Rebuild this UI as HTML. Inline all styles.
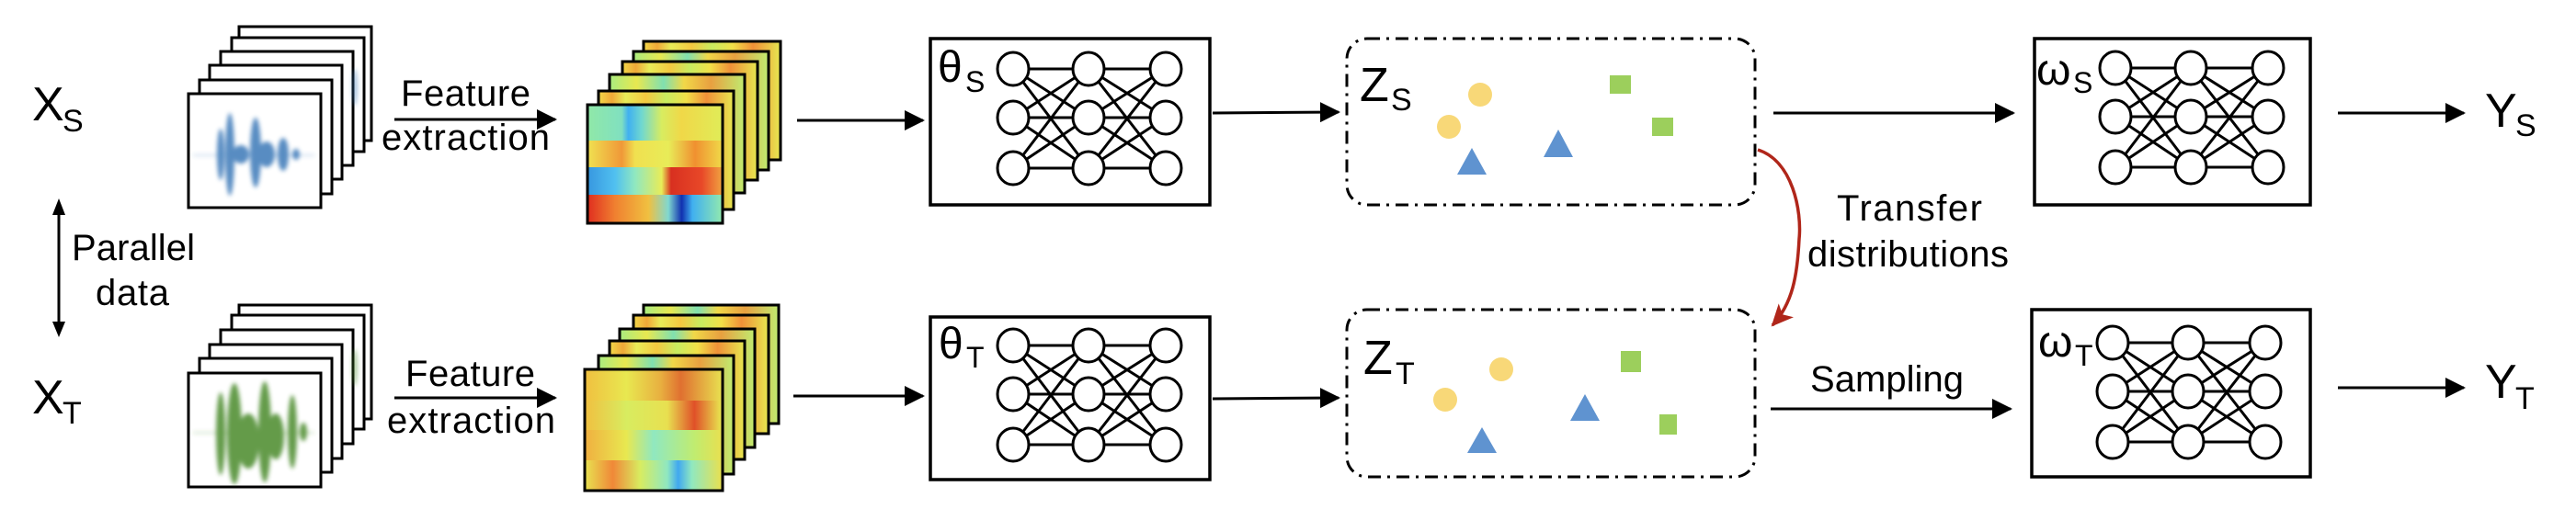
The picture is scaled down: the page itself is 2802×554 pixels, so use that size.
<!DOCTYPE html>
<html><head><meta charset="utf-8"><style>
html,body{margin:0;padding:0;background:#fff;}
svg{display:block;font-family:"Liberation Sans",Arial,sans-serif;}
</style></head><body>
<svg width="2802" height="554" viewBox="0 0 2802 554" xmlns="http://www.w3.org/2000/svg">
<defs>
<marker id="ah" markerWidth="22" markerHeight="22" refX="20" refY="11" orient="auto" markerUnits="userSpaceOnUse"><path d="M0,0 L22,11 L0,22 Z" fill="#000"/></marker>
<marker id="ahr" markerWidth="26" markerHeight="26" refX="22" refY="13" orient="auto" markerUnits="userSpaceOnUse"><path d="M0,2 L24,13 L0,24 L6,13 Z" fill="#b0261a"/></marker>
<filter id="bl" x="-50%" y="-50%" width="200%" height="200%"><feGaussianBlur stdDeviation="2.5"/></filter>
<g id="net" stroke="#000" stroke-width="3" fill="none">
<path d="M0,0L82,0M0,0L82,53M0,0L82,108M0,53L82,0M0,53L82,53M0,53L82,108M0,108L82,0M0,108L82,53M0,108L82,108"/>
<path d="M82,0L166,0M82,0L166,53M82,0L166,108M82,53L166,0M82,53L166,53M82,53L166,108M82,108L166,0M82,108L166,53M82,108L166,108"/>
<g fill="#fff"><ellipse cx="0" cy="0" rx="17" ry="18"/><ellipse cx="0" cy="53" rx="17" ry="18"/><ellipse cx="0" cy="108" rx="17" ry="18"/>
<ellipse cx="82" cy="0" rx="17" ry="18"/><ellipse cx="82" cy="53" rx="17" ry="18"/><ellipse cx="82" cy="108" rx="17" ry="18"/>
<ellipse cx="166" cy="0" rx="17" ry="18"/><ellipse cx="166" cy="53" rx="17" ry="18"/><ellipse cx="166" cy="108" rx="17" ry="18"/></g>
</g>
<linearGradient id="hb"><stop offset="0" stop-color="#f2d848"/><stop offset=".1" stop-color="#f0a838"/><stop offset=".2" stop-color="#e8ec58"/><stop offset=".35" stop-color="#f4c840"/><stop offset=".5" stop-color="#c8ec60"/><stop offset=".65" stop-color="#f2e048"/><stop offset=".8" stop-color="#f09038"/><stop offset="1" stop-color="#e6e850"/></linearGradient>
<linearGradient id="hc"><stop offset="0" stop-color="#a8ec80"/><stop offset=".2" stop-color="#e8e850"/><stop offset=".4" stop-color="#80e0b0"/><stop offset=".55" stop-color="#f0d848"/><stop offset=".75" stop-color="#e8a040"/><stop offset="1" stop-color="#c0ec70"/></linearGradient>
<linearGradient id="f1"><stop offset="0" stop-color="#90e8a8"/><stop offset=".25" stop-color="#80e0c0"/><stop offset=".3" stop-color="#40b0f0"/><stop offset=".4" stop-color="#70d8d0"/><stop offset=".55" stop-color="#d8ec60"/><stop offset=".7" stop-color="#f0d848"/><stop offset="1" stop-color="#e0ec58"/></linearGradient>
<linearGradient id="f2"><stop offset="0" stop-color="#f0e050"/><stop offset=".25" stop-color="#f09838"/><stop offset=".35" stop-color="#f0e050"/><stop offset=".6" stop-color="#e8ec58"/><stop offset=".8" stop-color="#f09030"/><stop offset="1" stop-color="#f0d848"/></linearGradient>
<linearGradient id="f3"><stop offset="0" stop-color="#3898e0"/><stop offset=".2" stop-color="#50c0f0"/><stop offset=".35" stop-color="#90e8c0"/><stop offset=".55" stop-color="#e8ec58"/><stop offset=".62" stop-color="#d83020"/><stop offset=".85" stop-color="#e84828"/><stop offset="1" stop-color="#f0a040"/></linearGradient>
<linearGradient id="f4"><stop offset="0" stop-color="#e03020"/><stop offset=".2" stop-color="#f08030"/><stop offset=".45" stop-color="#f0c040"/><stop offset=".6" stop-color="#80d8d0"/><stop offset=".7" stop-color="#1030b0"/><stop offset=".78" stop-color="#40b0f0"/><stop offset="1" stop-color="#90e8b0"/></linearGradient>
<linearGradient id="g1"><stop offset="0" stop-color="#f0c040"/><stop offset=".3" stop-color="#e8e850"/><stop offset=".55" stop-color="#e8b040"/><stop offset=".7" stop-color="#e07030"/><stop offset="1" stop-color="#e8e050"/></linearGradient>
<linearGradient id="g2"><stop offset="0" stop-color="#f0c040"/><stop offset=".3" stop-color="#d8ec60"/><stop offset=".6" stop-color="#e8e050"/><stop offset=".8" stop-color="#e05028"/><stop offset="1" stop-color="#e8e850"/></linearGradient>
<linearGradient id="g3"><stop offset="0" stop-color="#f0b040"/><stop offset=".3" stop-color="#e8e850"/><stop offset=".5" stop-color="#90e8c0"/><stop offset=".8" stop-color="#c0ec70"/><stop offset="1" stop-color="#e8e050"/></linearGradient>
<linearGradient id="g4"><stop offset="0" stop-color="#e8e050"/><stop offset=".2" stop-color="#f08838"/><stop offset=".4" stop-color="#d8ec60"/><stop offset=".6" stop-color="#90e8c0"/><stop offset=".68" stop-color="#40a8f0"/><stop offset=".78" stop-color="#90e8c0"/><stop offset="1" stop-color="#e8e050"/></linearGradient>
</defs>

<!-- Left labels -->
<text x="35" y="131" font-size="52">X</text><text x="68" y="143" font-size="34">S</text>
<text x="35" y="450" font-size="52">X</text><text x="68" y="461" font-size="34">T</text>
<line x1="64" y1="232" x2="64" y2="352" stroke="#000" stroke-width="3"/>
<path d="M57,234 L64,216 L71,234 Z M57,350 L64,367 L71,350 Z" fill="#000"/>
<text x="78" y="283" font-size="40" textLength="134">Parallel</text>
<text x="104" y="332" font-size="40" textLength="80">data</text>

<!-- waveform stacks -->
<g stroke="#000" stroke-width="3" fill="#fff">
<rect x="260" y="29" width="144" height="124"/><rect x="252" y="41" width="144" height="124"/><rect x="240" y="56" width="144" height="124"/><rect x="228" y="71" width="144" height="124"/><rect x="217" y="87" width="144" height="124"/><rect x="205" y="102" width="144" height="124"/>
<rect x="260" y="332" width="144" height="124"/><rect x="252" y="343" width="144" height="124"/><rect x="240" y="359" width="144" height="124"/><rect x="228" y="375" width="144" height="124"/><rect x="217" y="390" width="144" height="124"/><rect x="205" y="406" width="144" height="124"/>
</g>
<g fill="#3a78b8" filter="url(#bl)" opacity=".85">
<rect x="210" y="168" width="132" height="2" opacity=".3"/>
<ellipse cx="240" cy="168" rx="4" ry="28"/><ellipse cx="250" cy="168" rx="5" ry="45"/><ellipse cx="262" cy="168" rx="9" ry="10"/><ellipse cx="278" cy="166" rx="6" ry="38"/><ellipse cx="290" cy="168" rx="9" ry="14"/><ellipse cx="308" cy="168" rx="6" ry="18"/><ellipse cx="322" cy="168" rx="4" ry="6"/>
<ellipse cx="386" cy="95" rx="3" ry="20" opacity=".5"/>
</g>
<g fill="#4a8a2a" filter="url(#bl)" opacity=".85">
<rect x="210" y="470" width="132" height="2" opacity=".3"/>
<ellipse cx="240" cy="472" rx="5" ry="45"/><ellipse cx="255" cy="472" rx="8" ry="55"/><ellipse cx="270" cy="480" rx="12" ry="30"/><ellipse cx="288" cy="470" rx="7" ry="55"/><ellipse cx="300" cy="475" rx="9" ry="25"/><ellipse cx="318" cy="470" rx="5" ry="40"/><ellipse cx="330" cy="470" rx="4" ry="10"/>
<ellipse cx="386" cy="400" rx="3" ry="20" opacity=".5"/>
</g>

<!-- Feature extraction arrows -->
<line x1="429" y1="130" x2="604" y2="130" stroke="#000" stroke-width="3" marker-end="url(#ah)"/>
<text x="436" y="115" font-size="40" textLength="141">Feature</text>
<text x="415" y="163" font-size="40" textLength="183">extraction</text>
<line x1="429" y1="433" x2="604" y2="433" stroke="#000" stroke-width="3" marker-end="url(#ah)"/>
<text x="441" y="420" font-size="40" textLength="141">Feature</text>
<text x="421" y="471" font-size="40" textLength="183">extraction</text>

<!-- heatmaps top -->
<g stroke="#000" stroke-width="3">
<rect x="700" y="45" width="149" height="129" fill="url(#hb)"/>
<rect x="689" y="56" width="147" height="129" fill="url(#hc)"/>
<rect x="677" y="67" width="147" height="129" fill="url(#hb)"/>
<rect x="663" y="81" width="147" height="129" fill="url(#hc)"/>
<rect x="651" y="99" width="147" height="129" fill="url(#hb)"/>
<rect x="639" y="114" width="147" height="129" fill="#fff"/>
</g>
<rect x="640" y="115" width="145" height="38" fill="url(#f1)"/>
<rect x="640" y="153" width="145" height="29" fill="url(#f2)"/>
<rect x="640" y="182" width="145" height="30" fill="url(#f3)"/>
<rect x="640" y="212" width="145" height="30" fill="url(#f4)"/>
<rect x="639" y="114" width="147" height="129" fill="none" stroke="#000" stroke-width="3"/>
<!-- heatmaps bottom -->
<g stroke="#000" stroke-width="3">
<rect x="700" y="332" width="147" height="129" fill="url(#hc)"/>
<rect x="689" y="343" width="147" height="129" fill="url(#hb)"/>
<rect x="674" y="358" width="147" height="129" fill="url(#hc)"/>
<rect x="663" y="371" width="147" height="129" fill="url(#hb)"/>
<rect x="651" y="387" width="147" height="129" fill="url(#hc)"/>
<rect x="636" y="402" width="150" height="132" fill="#fff"/>
</g>
<rect x="637" y="403" width="148" height="33" fill="url(#g1)"/>
<rect x="637" y="436" width="148" height="32" fill="url(#g2)"/>
<rect x="637" y="468" width="148" height="33" fill="url(#g3)"/>
<rect x="637" y="501" width="148" height="32" fill="url(#g4)"/>
<rect x="636" y="402" width="150" height="132" fill="none" stroke="#000" stroke-width="3"/>

<!-- arrows to theta -->
<line x1="867" y1="131" x2="1004" y2="131" stroke="#000" stroke-width="3" marker-end="url(#ah)"/>
<line x1="863" y1="431" x2="1004" y2="431" stroke="#000" stroke-width="3" marker-end="url(#ah)"/>

<!-- theta boxes -->
<rect x="1012" y="42" width="304" height="181" fill="#fff" stroke="#000" stroke-width="3.5"/>
<rect x="1012" y="345" width="304" height="177" fill="#fff" stroke="#000" stroke-width="3.5"/>
<use href="#net" x="1102" y="75"/>
<use href="#net" x="1102" y="376"/>
<text x="1020" y="89" font-size="48">θ</text><text x="1050" y="100" font-size="32">S</text>
<text x="1021" y="390" font-size="48">θ</text><text x="1051" y="400" font-size="32">T</text>

<line x1="1319" y1="123" x2="1456" y2="122" stroke="#000" stroke-width="3" marker-end="url(#ah)"/>
<line x1="1319" y1="434" x2="1456" y2="433" stroke="#000" stroke-width="3" marker-end="url(#ah)"/>

<!-- Z boxes -->
<rect x="1465" y="42" width="444" height="181" rx="22" fill="none" stroke="#000" stroke-width="3" stroke-dasharray="14 7 3 7"/>
<rect x="1465" y="337" width="444" height="182" rx="22" fill="none" stroke="#000" stroke-width="3" stroke-dasharray="14 7 3 7"/>
<text x="1479" y="110" font-size="52">Z</text><text x="1513" y="120" font-size="34">S</text>
<text x="1483" y="407" font-size="52">Z</text><text x="1518" y="418" font-size="34">T</text>
<g fill="#f8d878"><circle cx="1610" cy="103" r="13"/><circle cx="1576" cy="138" r="13"/><circle cx="1633" cy="402" r="13"/><circle cx="1572" cy="435" r="13"/></g>
<g fill="#5f93d0"><path d="M1601,161 L1617,190 L1585,190 Z"/><path d="M1695,141 L1711,171 L1679,171 Z"/><path d="M1612,465 L1628,493 L1596,493 Z"/><path d="M1724,429 L1740,458 L1708,458 Z"/></g>
<g fill="#9ccf5c"><rect x="1751" y="82" width="23" height="20"/><rect x="1797" y="128" width="23" height="20"/><rect x="1763" y="382" width="22" height="23"/><rect x="1805" y="451" width="19" height="22"/></g>

<!-- red transfer arrow -->
<path d="M1912,163 C1950,175 1960,230 1957,260 C1955,300 1950,330 1928,354" fill="none" stroke="#b0261a" stroke-width="3.5" marker-end="url(#ahr)"/>
<text x="1998" y="240" font-size="40" textLength="158">Transfer</text>
<text x="1966" y="290" font-size="40" textLength="219">distributions</text>

<line x1="1929" y1="123" x2="2190" y2="123" stroke="#000" stroke-width="3" marker-end="url(#ah)"/>
<line x1="1926" y1="445" x2="2187" y2="445" stroke="#000" stroke-width="3" marker-end="url(#ah)"/>
<text x="1969" y="426" font-size="40" textLength="167">Sampling</text>

<!-- omega boxes -->
<rect x="2213" y="42" width="300" height="181" fill="#fff" stroke="#000" stroke-width="3.5"/>
<rect x="2210" y="337" width="303" height="182" fill="#fff" stroke="#000" stroke-width="3.5"/>
<use href="#net" x="2301" y="74"/>
<use href="#net" x="2298" y="373"/>
<text x="2215" y="92" font-size="48">ω</text><text x="2255" y="101" font-size="32">S</text>
<text x="2217" y="388" font-size="48">ω</text><text x="2257" y="398" font-size="32">T</text>

<line x1="2543" y1="123" x2="2680" y2="123" stroke="#000" stroke-width="3" marker-end="url(#ah)"/>
<line x1="2543" y1="422" x2="2680" y2="422" stroke="#000" stroke-width="3" marker-end="url(#ah)"/>
<text x="2703" y="138" font-size="52">Y</text><text x="2736" y="148" font-size="34">S</text>
<text x="2703" y="433" font-size="52">Y</text><text x="2736" y="445" font-size="34">T</text>
</svg>
</body></html>
